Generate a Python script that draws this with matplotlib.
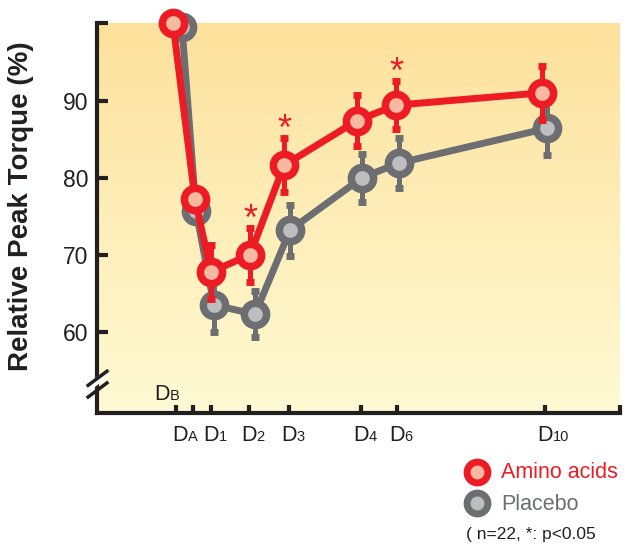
import numpy as np
import matplotlib
matplotlib.use('Agg')
import matplotlib.pyplot as plt
from matplotlib.lines import Line2D
from matplotlib.colors import LinearSegmentedColormap

plt.rcParams['font.family'] = ['Liberation Sans', 'DejaVu Sans']

# time axis positions (arbitrary units along the x axis)
tick_names = ['B', 'A', '1', '2', '3', '4', '6', '10']
tick_pos = [79, 96, 114, 152, 192, 264, 300, 448]

# Amino acids group
amino_x = [76, 98, 114, 153, 187, 260, 299, 445]
amino_y = [100.0, 77.2, 67.8, 70.0, 81.6, 87.4, 89.4, 91.0]
amino_err = [0.0, 0.0, 3.5, 3.5, 3.5, 3.3, 3.1, 3.5]
amino_sig = [False, False, False, True, True, False, True, False]

# Placebo group
placebo_x = [85, 99, 117, 158, 193, 265, 302, 450]
placebo_y = [99.5, 75.7, 63.5, 62.3, 73.2, 80.0, 81.9, 86.4]
placebo_err = [0.0, 0.0, 3.5, 3.0, 3.3, 3.1, 3.2, 3.4]

yticks = [60, 70, 80, 90]

RED = '#ed1c24'
SALMON = '#f9b9a1'
GRAY = '#6d6e71'
LIGHTGRAY = '#bcbec0'
BLACK = '#231f20'

fig = plt.figure(figsize=(6.25, 5.45), dpi=100)
ax = fig.add_axes([97/625, 132/545, 523/625, 390/545])

# gradient background
grad = np.linspace(0, 1, 256).reshape(-1, 1)
bg_cmap = LinearSegmentedColormap.from_list('bg', ['#fffad4', '#fde19c'])
ax.imshow(grad, aspect='auto', cmap=bg_cmap, origin='lower',
          extent=[0, 1, 0, 1], transform=ax.transAxes, zorder=0)

ax.set_xlim(0, 523)
ax.set_ylim(49.5, 100.05)


def draw_series(x, y, err, col, fill, z):
    ax.errorbar(x, y, yerr=err, fmt='none', ecolor=col, elinewidth=3.6,
                capsize=3, capthick=5, zorder=z, clip_on=False)
    ax.plot(x, y, color=col, lw=5, zorder=z + 0.1, clip_on=False,
            solid_capstyle='round')
    ax.plot(x, y, 'o', ms=16, mfc=fill, mec=col, mew=5.4, zorder=z + 0.2,
            clip_on=False)


draw_series(placebo_x, placebo_y, placebo_err, GRAY, LIGHTGRAY, 3)
draw_series(amino_x, amino_y, amino_err, RED, SALMON, 4)

# significance stars
for xi, yi, ei, s in zip(amino_x, amino_y, amino_err, amino_sig):
    if s:
        ax.annotate('*', xy=(xi, yi + ei), xytext=(0, -1.5), textcoords='offset points',
                    ha='center', va='baseline', color=RED, fontsize=26, zorder=6)

# axes styling
for side in ['top', 'right']:
    ax.spines[side].set_visible(False)
for side in ['left', 'bottom']:
    ax.spines[side].set_linewidth(3)
    ax.spines[side].set_color(BLACK)
    ax.spines[side].set_zorder(5)

ax.set_yticks(yticks + [100])
ax.set_yticklabels([str(t) for t in yticks] + [''])
ax.tick_params(axis='y', direction='in', length=8, width=3, color=BLACK,
               labelsize=16.5, labelcolor=BLACK, pad=6)
ax.set_xticks(tick_pos + [523])
ax.set_xticklabels([])
ax.tick_params(axis='x', direction='in', length=6, width=3, color=BLACK)

# x tick labels as D + small suffix
for name, p in zip(tick_names, tick_pos):
    if name == 'B':
        dx, dy = -10, 9
    elif name == 'A':
        dx, dy = -9, -20
    else:
        dx, dy = 0, -20
    ax.annotate('D', xy=(p, 0), xycoords=('data', 'axes fraction'),
                xytext=(dx, dy), textcoords='offset points', ha='center',
                va='baseline', fontsize=15.5, color=BLACK, annotation_clip=False)
    ax.annotate(name, xy=(p, 0), xycoords=('data', 'axes fraction'),
                xytext=(dx + 5.4, dy), textcoords='offset points', ha='left',
                va='baseline', fontsize=10.5, color=BLACK, annotation_clip=False)

# axis break on the y axis
bx = [-0.017, 0.019]
ax.plot(bx, [0.065, 0.101], transform=ax.transAxes, color='white', lw=5,
        clip_on=False, zorder=7, solid_capstyle='butt')
ax.plot(bx, [0.041, 0.077], transform=ax.transAxes, color=BLACK, lw=2.5,
        clip_on=False, zorder=8)
ax.plot(bx, [0.071, 0.107], transform=ax.transAxes, color=BLACK, lw=2.5,
        clip_on=False, zorder=8)

fig.text(21/625, 1 - 206/545, 'Relative Peak Torque (%)', rotation=90,
         ha='center', va='center', fontsize=20, fontweight='bold', color=BLACK)

# legend
fig.add_artist(Line2D([477/625], [1 - 472/545], marker='o', ms=15, mfc=SALMON,
                      mec=RED, mew=5, transform=fig.transFigure))
fig.add_artist(Line2D([477/625], [1 - 503/545], marker='o', ms=15, mfc=LIGHTGRAY,
                      mec=GRAY, mew=5, transform=fig.transFigure))
fig.text(501/625, 1 - 472/545, 'Amino acids', color=RED, fontsize=15.5,
         ha='left', va='center')
fig.text(501/625, 1 - 504/545, 'Placebo', color=GRAY, fontsize=15.5,
         ha='left', va='center')
fig.text(466/625, 1 - 535/545, '( n=22, *: p<0.05', color=BLACK, fontsize=12.5,
         ha='left', va='center')

fig.savefig('out.png', dpi=100)
